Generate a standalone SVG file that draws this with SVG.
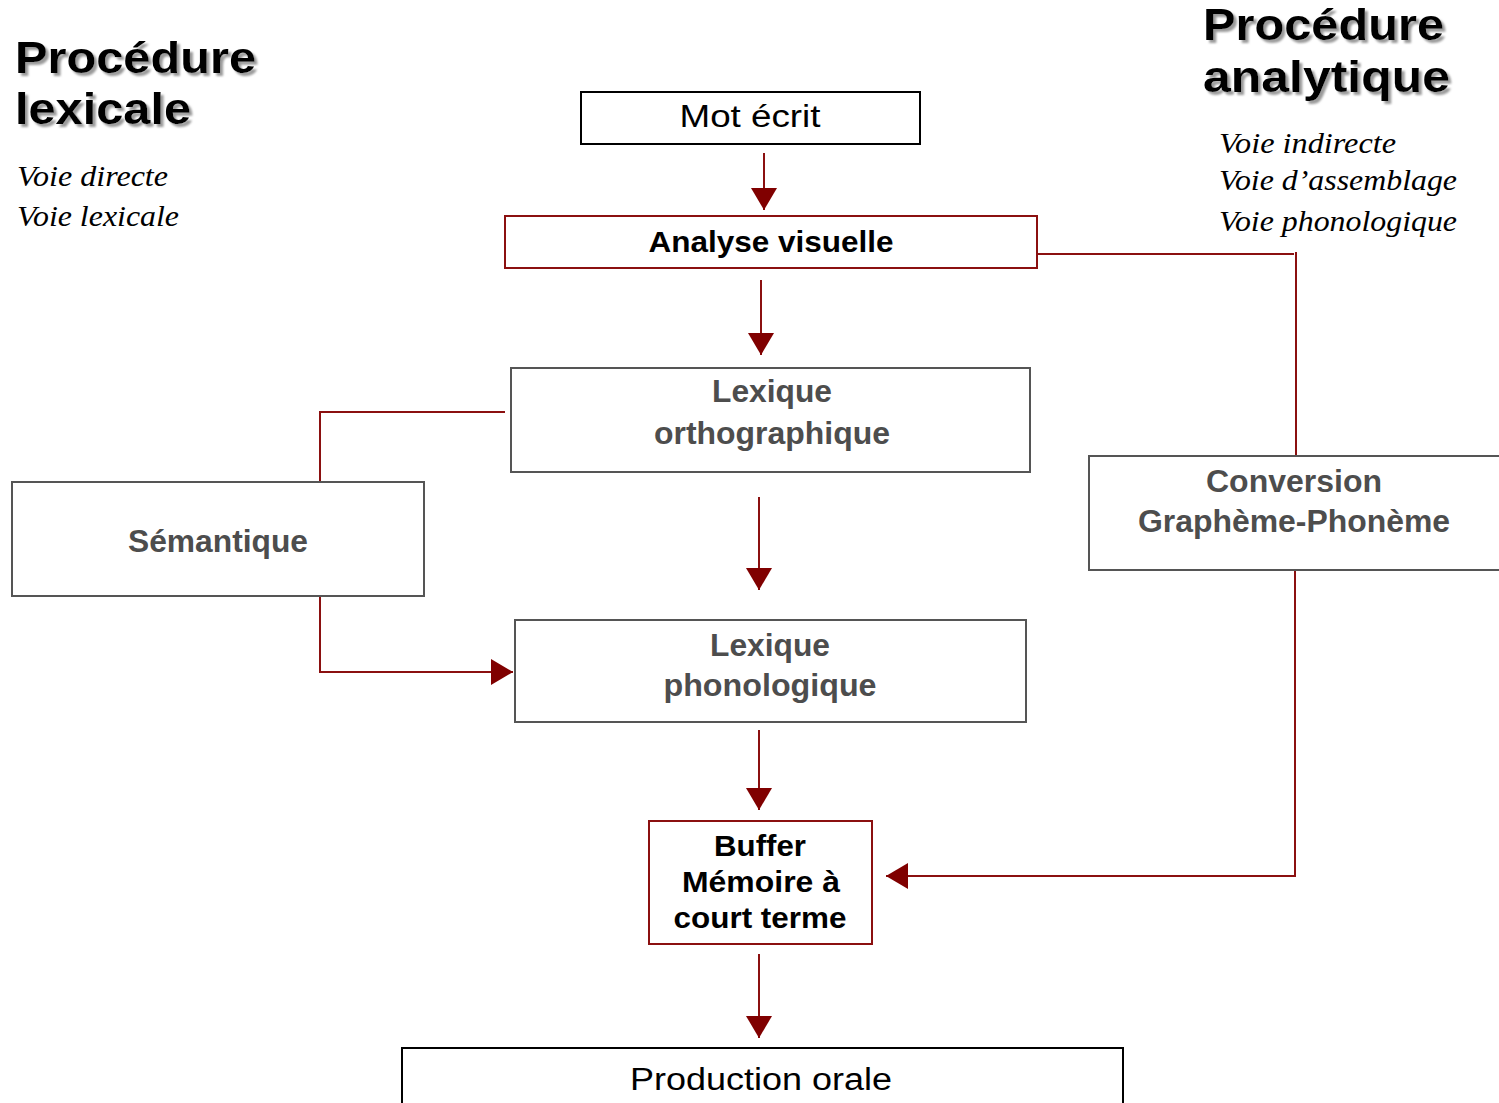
<svg xmlns="http://www.w3.org/2000/svg" width="1499" height="1103" viewBox="0 0 1499 1103">
<defs>
<marker id="ah" markerUnits="userSpaceOnUse" markerWidth="24" markerHeight="26" refX="22" refY="13" orient="auto">
<path d="M0,0 L22,13 L0,26 Z" fill="#800000"/>
</marker>
<filter id="sh" x="-5%" y="-5%" width="115%" height="130%">
<feGaussianBlur in="SourceAlpha" stdDeviation="1"/>
<feOffset dx="3" dy="3" result="b"/>
<feFlood flood-color="#9a9a9a"/>
<feComposite in2="b" operator="in" result="s"/>
<feMerge><feMergeNode in="s"/><feMergeNode in="SourceGraphic"/></feMerge>
</filter>
</defs>
<style>
.title{font-family:"Liberation Sans",Arial,sans-serif;font-weight:bold;font-size:45px;fill:#000}
.it{font-family:"Liberation Serif","Times New Roman",serif;font-style:italic;font-size:30px;fill:#000}
.box{fill:#fff;stroke:#555;stroke-width:2}
.rbox{fill:#fff;stroke:#8b1010;stroke-width:2}
.kbox{fill:#fff;stroke:#000;stroke-width:2}
.gt{font-family:"Liberation Sans",Arial,sans-serif;font-weight:bold;font-size:31px;fill:#4d4d4d;text-anchor:middle}
.bt{font-family:"Liberation Sans",Arial,sans-serif;font-weight:bold;font-size:30px;fill:#000;text-anchor:middle}
.nt{font-family:"Liberation Sans",Arial,sans-serif;font-size:31px;fill:#000;text-anchor:middle}
.con{fill:none;stroke:#8b1010;stroke-width:2}
.arr{fill:none;stroke:#8b1010;stroke-width:2;marker-end:url(#ah)}
</style>
<rect width="1499" height="1103" fill="#fff"/>

<g id="titles">
<g filter="url(#sh)">
<text class="title" x="15" y="73" textLength="241" lengthAdjust="spacingAndGlyphs">Procédure</text>
<text class="title" x="15" y="124" textLength="176" lengthAdjust="spacingAndGlyphs">lexicale</text>
<text class="title" x="1203" y="40" textLength="241" lengthAdjust="spacingAndGlyphs">Procédure</text>
<text class="title" x="1203" y="92" textLength="247" lengthAdjust="spacingAndGlyphs">analytique</text>
</g>
<text class="it" x="17" y="186" textLength="151" lengthAdjust="spacingAndGlyphs">Voie directe</text>
<text class="it" x="17" y="226" textLength="162" lengthAdjust="spacingAndGlyphs">Voie lexicale</text>
<text class="it" x="1219" y="153" textLength="177" lengthAdjust="spacingAndGlyphs">Voie indirecte</text>
<text class="it" x="1219" y="190" textLength="238" lengthAdjust="spacingAndGlyphs">Voie d’assemblage</text>
<text class="it" x="1219" y="231" textLength="238" lengthAdjust="spacingAndGlyphs">Voie phonologique</text>
</g>

<g id="connectors">
<line class="arr" x1="764" y1="153" x2="764" y2="210"/>
<line class="arr" x1="761" y1="280" x2="761" y2="355"/>
<line class="arr" x1="759" y1="497" x2="759" y2="590"/>
<line class="arr" x1="759" y1="730" x2="759" y2="810"/>
<line class="arr" x1="759" y1="954" x2="759" y2="1038"/>
<polyline class="con" points="1037,254 1294,254"/>
<line class="con" x1="1296" y1="252" x2="1296" y2="456"/>
<polyline class="con" points="505,412 320,412 320,482"/>
<polyline class="arr" points="320,592 320,672 513,672"/>
<polyline class="arr" points="1295,570 1295,876 886,876"/>
</g>

<g id="mot-ecrit">
<rect class="kbox" x="581" y="92" width="339" height="52"/>
<text class="nt" x="750" y="127" textLength="141" lengthAdjust="spacingAndGlyphs">Mot écrit</text>
</g>
<g id="analyse-visuelle">
<rect class="rbox" x="505" y="216" width="532" height="52"/>
<text class="bt" x="771" y="252" textLength="245" lengthAdjust="spacingAndGlyphs">Analyse visuelle</text>
</g>
<g id="lexique-orthographique">
<rect class="box" x="511" y="368" width="519" height="104"/>
<text class="gt" x="772" y="402" textLength="120" lengthAdjust="spacingAndGlyphs">Lexique</text>
<text class="gt" x="772" y="444" textLength="236" lengthAdjust="spacingAndGlyphs">orthographique</text>
</g>
<g id="semantique">
<rect class="box" x="12" y="482" width="412" height="114"/>
<text class="gt" x="218" y="552" textLength="180" lengthAdjust="spacingAndGlyphs">Sémantique</text>
</g>
<g id="conversion">
<rect class="box" x="1089" y="456" width="420" height="114"/>
<text class="gt" x="1294" y="492" textLength="176" lengthAdjust="spacingAndGlyphs">Conversion</text>
<text class="gt" x="1294" y="532" textLength="312" lengthAdjust="spacingAndGlyphs">Graphème-Phonème</text>
</g>
<g id="lexique-phonologique">
<rect class="box" x="515" y="620" width="511" height="102"/>
<text class="gt" x="770" y="656" textLength="120" lengthAdjust="spacingAndGlyphs">Lexique</text>
<text class="gt" x="770" y="696" textLength="213" lengthAdjust="spacingAndGlyphs">phonologique</text>
</g>
<g id="buffer">
<rect class="rbox" x="649" y="821" width="223" height="123"/>
<text class="bt" x="760" y="856" textLength="92" lengthAdjust="spacingAndGlyphs">Buffer</text>
<text class="bt" x="761" y="892" textLength="158" lengthAdjust="spacingAndGlyphs">Mémoire à</text>
<text class="bt" x="760" y="928" textLength="173" lengthAdjust="spacingAndGlyphs">court terme</text>
</g>
<g id="production-orale">
<rect class="kbox" x="402" y="1048" width="721" height="70"/>
<text class="nt" x="761" y="1090" textLength="262" lengthAdjust="spacingAndGlyphs">Production orale</text>
</g>
</svg>
